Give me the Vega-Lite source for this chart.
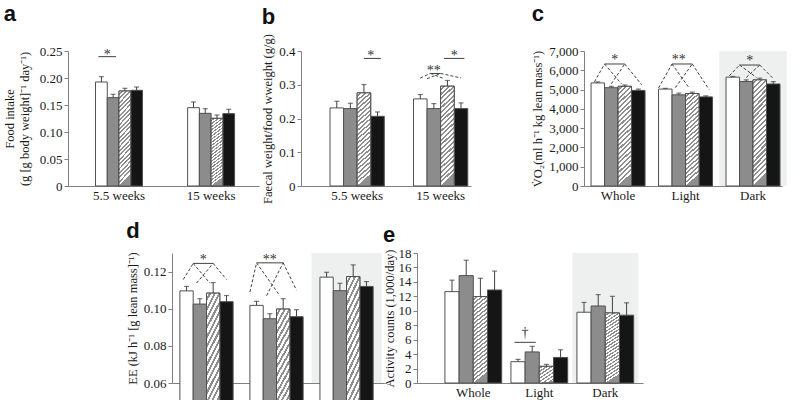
{
"$schema": "https://vega.github.io/schema/vega-lite/v6.json",
"padding": {"left": 3, "top": 3, "right": 3, "bottom": 0},
"background": "white",
"datasets": {
"bars": [
{"panel":"a","grp":"5.5 weeks","cond":"A","v":0.1926,"hi":0.2025},
{"panel":"a","grp":"5.5 weeks","cond":"B","v":0.1636,"hi":0.1698},
{"panel":"a","grp":"5.5 weeks","cond":"C","v":0.1759,"hi":0.1809},
{"panel":"a","grp":"5.5 weeks","cond":"D","v":0.1772,"hi":0.1833},
{"panel":"a","grp":"15 weeks","cond":"A","v":0.145,"hi":0.1556},
{"panel":"a","grp":"15 weeks","cond":"B","v":0.1346,"hi":0.1432},
{"panel":"a","grp":"15 weeks","cond":"C","v":0.1253,"hi":0.1315},
{"panel":"a","grp":"15 weeks","cond":"D","v":0.134,"hi":0.142},
{"panel":"b","grp":"5.5 weeks","cond":"A","v":0.2313,"hi":0.2511},
{"panel":"b","grp":"5.5 weeks","cond":"B","v":0.2293,"hi":0.2452},
{"panel":"b","grp":"5.5 weeks","cond":"C","v":0.2759,"hi":0.3007},
{"panel":"b","grp":"5.5 weeks","cond":"D","v":0.2065,"hi":0.2194},
{"panel":"b","grp":"15 weeks","cond":"A","v":0.2581,"hi":0.271},
{"panel":"b","grp":"15 weeks","cond":"B","v":0.2293,"hi":0.2442},
{"panel":"b","grp":"15 weeks","cond":"C","v":0.2958,"hi":0.3127},
{"panel":"b","grp":"15 weeks","cond":"D","v":0.2293,"hi":0.2462},
{"panel":"c","grp":"Whole","cond":"A","v":5344,"hi":5397},
{"panel":"c","grp":"Whole","cond":"B","v":5097,"hi":5168},
{"panel":"c","grp":"Whole","cond":"C","v":5168,"hi":5238},
{"panel":"c","grp":"Whole","cond":"D","v":4956,"hi":5026},
{"panel":"c","grp":"Light","cond":"A","v":5026,"hi":5062},
{"panel":"c","grp":"Light","cond":"B","v":4727,"hi":4815},
{"panel":"c","grp":"Light","cond":"C","v":4797,"hi":4868},
{"panel":"c","grp":"Light","cond":"D","v":4621,"hi":4674},
{"panel":"c","grp":"Dark","cond":"A","v":5644,"hi":5680},
{"panel":"c","grp":"Dark","cond":"B","v":5414,"hi":5503},
{"panel":"c","grp":"Dark","cond":"C","v":5503,"hi":5591},
{"panel":"c","grp":"Dark","cond":"D","v":5291,"hi":5414},
{"panel":"d","grp":"Whole","cond":"A","v":0.1096,"hi":0.112},
{"panel":"d","grp":"Whole","cond":"B","v":0.1025,"hi":0.1054},
{"panel":"d","grp":"Whole","cond":"C","v":0.1084,"hi":0.1141},
{"panel":"d","grp":"Whole","cond":"D","v":0.1038,"hi":0.1071},
{"panel":"d","grp":"Light","cond":"A","v":0.1018,"hi":0.104},
{"panel":"d","grp":"Light","cond":"B","v":0.0946,"hi":0.0973},
{"panel":"d","grp":"Light","cond":"C","v":0.0998,"hi":0.1054},
{"panel":"d","grp":"Light","cond":"D","v":0.0957,"hi":0.0995},
{"panel":"d","grp":"Dark","cond":"A","v":0.117,"hi":0.1196},
{"panel":"d","grp":"Dark","cond":"B","v":0.1097,"hi":0.1137},
{"panel":"d","grp":"Dark","cond":"C","v":0.1173,"hi":0.1236},
{"panel":"d","grp":"Dark","cond":"D","v":0.112,"hi":0.1146},
{"panel":"e","grp":"Whole","cond":"A","v":12.65,"hi":14.24},
{"panel":"e","grp":"Whole","cond":"B","v":14.87,"hi":17.0},
{"panel":"e","grp":"Whole","cond":"C","v":11.97,"hi":14.5},
{"panel":"e","grp":"Whole","cond":"D","v":12.88,"hi":15.5},
{"panel":"e","grp":"Light","cond":"A","v":2.95,"hi":3.27},
{"panel":"e","grp":"Light","cond":"B","v":4.3,"hi":5.08},
{"panel":"e","grp":"Light","cond":"C","v":2.31,"hi":2.58},
{"panel":"e","grp":"Light","cond":"D","v":3.54,"hi":4.6},
{"panel":"e","grp":"Dark","cond":"A","v":9.8,"hi":11.16},
{"panel":"e","grp":"Dark","cond":"B","v":10.66,"hi":12.24},
{"panel":"e","grp":"Dark","cond":"C","v":9.7,"hi":12.0},
{"panel":"e","grp":"Dark","cond":"D","v":9.39,"hi":11.1}
],
"sig": [
{"panel":"a","grp":"5.5 weeks","id":"a1","p":1,"y":0.2395},{"panel":"a","grp":"5.5 weeks","id":"a1","p":7,"y":0.2395},
{"panel":"b","grp":"5.5 weeks","id":"b1","p":10,"y":0.378},{"panel":"b","grp":"5.5 weeks","id":"b1","p":15,"y":0.378},
{"panel":"b","grp":"15 weeks","id":"b2","p":9,"y":0.378},{"panel":"b","grp":"15 weeks","id":"b2","p":15,"y":0.378},
{"panel":"b","grp":"15 weeks","id":"b3","p":5,"y":0.3335},{"panel":"b","grp":"15 weeks","id":"b3","p":8,"y":0.3335},
{"panel":"c","grp":"Whole","id":"c1","p":4,"y":6326},{"panel":"c","grp":"Whole","id":"c1","p":10,"y":6326},
{"panel":"c","grp":"Light","id":"c2","p":4,"y":6326},{"panel":"c","grp":"Light","id":"c2","p":10,"y":6326},
{"panel":"c","grp":"Dark","id":"c3","p":4,"y":6272},{"panel":"c","grp":"Dark","id":"c3","p":10,"y":6272},
{"panel":"d","grp":"Whole","id":"d1","p":4,"y":0.1244},{"panel":"d","grp":"Whole","id":"d1","p":10,"y":0.1244},
{"panel":"d","grp":"Light","id":"d2","p":2,"y":0.1247},{"panel":"d","grp":"Light","id":"d2","p":10,"y":0.1247},
{"panel":"e","grp":"Light","id":"e1","p":1,"y":5.63},{"panel":"e","grp":"Light","id":"e1","p":7,"y":5.63}
],
"links": [
{"panel":"b","grp":"15 weeks","id":"bl1","p":5,"y":0.3335},{"panel":"b","grp":"15 weeks","id":"bl1","p":2,"y":0.32},
{"panel":"b","grp":"15 weeks","id":"bl2","p":5,"y":0.3335},{"panel":"b","grp":"15 weeks","id":"bl2","p":9,"y":0.318},
{"panel":"b","grp":"15 weeks","id":"bl3","p":8,"y":0.3335},{"panel":"b","grp":"15 weeks","id":"bl3","p":4,"y":0.318},
{"panel":"b","grp":"15 weeks","id":"bl4","p":8,"y":0.3335},{"panel":"b","grp":"15 weeks","id":"bl4","p":14,"y":0.32},
{"panel":"c","grp":"Whole","id":"cl1","p":4,"y":6326},{"panel":"c","grp":"Whole","id":"cl1","p":1,"y":5400},
{"panel":"c","grp":"Whole","id":"cl2","p":4,"y":6326},{"panel":"c","grp":"Whole","id":"cl2","p":9,"y":5300},
{"panel":"c","grp":"Whole","id":"cl3","p":10,"y":6326},{"panel":"c","grp":"Whole","id":"cl3","p":6,"y":5300},
{"panel":"c","grp":"Whole","id":"cl4","p":10,"y":6326},{"panel":"c","grp":"Whole","id":"cl4","p":15,"y":5250},
{"panel":"c","grp":"Light","id":"cl5","p":4,"y":6326},{"panel":"c","grp":"Light","id":"cl5","p":0,"y":5080},
{"panel":"c","grp":"Light","id":"cl6","p":4,"y":6326},{"panel":"c","grp":"Light","id":"cl6","p":9,"y":5100},
{"panel":"c","grp":"Light","id":"cl7","p":10,"y":6326},{"panel":"c","grp":"Light","id":"cl7","p":5,"y":5100},
{"panel":"c","grp":"Light","id":"cl8","p":10,"y":6326},{"panel":"c","grp":"Light","id":"cl8","p":15,"y":5000},
{"panel":"c","grp":"Dark","id":"cl9","p":4,"y":6272},{"panel":"c","grp":"Dark","id":"cl9","p":1,"y":5720},
{"panel":"c","grp":"Dark","id":"cl10","p":4,"y":6272},{"panel":"c","grp":"Dark","id":"cl10","p":9,"y":5630},
{"panel":"c","grp":"Dark","id":"cl11","p":10,"y":6272},{"panel":"c","grp":"Dark","id":"cl11","p":6,"y":5630},
{"panel":"c","grp":"Dark","id":"cl12","p":10,"y":6272},{"panel":"c","grp":"Dark","id":"cl12","p":14,"y":5570},
{"panel":"d","grp":"Whole","id":"dl1","p":4,"y":0.1244},{"panel":"d","grp":"Whole","id":"dl1","p":1,"y":0.1157},
{"panel":"d","grp":"Whole","id":"dl2","p":4,"y":0.1244},{"panel":"d","grp":"Whole","id":"dl2","p":9,"y":0.1138},
{"panel":"d","grp":"Whole","id":"dl3","p":10,"y":0.1244},{"panel":"d","grp":"Whole","id":"dl3","p":5,"y":0.1138},
{"panel":"d","grp":"Whole","id":"dl4","p":10,"y":0.1244},{"panel":"d","grp":"Whole","id":"dl4","p":14,"y":0.1157},
{"panel":"d","grp":"Light","id":"dl5","p":2,"y":0.1247},{"panel":"d","grp":"Light","id":"dl5","p":0,"y":0.109},
{"panel":"d","grp":"Light","id":"dl6","p":2,"y":0.1247},{"panel":"d","grp":"Light","id":"dl6","p":9,"y":0.107},
{"panel":"d","grp":"Light","id":"dl7","p":10,"y":0.1247},{"panel":"d","grp":"Light","id":"dl7","p":5,"y":0.107},
{"panel":"d","grp":"Light","id":"dl8","p":10,"y":0.1247},{"panel":"d","grp":"Light","id":"dl8","p":14,"y":0.11}
],
"stars": [
{"panel":"a","grp":"5.5 weeks","p":4,"y":0.243,"t":"*"},
{"panel":"b","grp":"5.5 weeks","p":12,"y":0.386,"t":"*"},
{"panel":"b","grp":"15 weeks","p":12,"y":0.386,"t":"*"},
{"panel":"b","grp":"15 weeks","p":6,"y":0.341,"t":"**"},
{"panel":"c","grp":"Whole","p":7,"y":6522,"t":"*"},
{"panel":"c","grp":"Light","p":6,"y":6522,"t":"**"},
{"panel":"c","grp":"Dark","p":7,"y":6480,"t":"*"},
{"panel":"d","grp":"Whole","p":7,"y":0.1264,"t":"*"},
{"panel":"d","grp":"Light","p":6,"y":0.1264,"t":"**"},
{"panel":"e","grp":"Light","p":4,"y":6.9,"t":"†"}
]
},
"config": {
"font": "Liberation Serif",
"view": {"stroke": null},
"axis": {"labelFont": "Liberation Serif", "labelFontSize": 13, "labelColor": "#1a1a1a", "titleFont": "Liberation Serif", "titleFontSize": 12.5, "titleFontWeight": "normal", "titleColor": "#1a1a1a", "domainColor": "#808080", "tickColor": "#808080", "grid": false, "labelPadding": 2, "titlePadding": 4, "labelOverlap": false, "labelFlush": false, "labelBound": false},
"axisX": {"ticks": false, "labelAngle": 0, "labelPadding": 3},
"axisY": {"tickSize": 4},
"title": {"font": "Liberation Sans", "fontSize": 22, "fontWeight": "bold", "anchor": "start", "frame": "bounds", "color": "#111111", "baseline": "alphabetic"}
},
"spacing": 15,
"vconcat": [
{"spacing": 60, "hconcat": [
{"spacing": 2, "hconcat": [
{
"width": 191, "height": 135,
"title": {"text": "a", "offset": 19},
"resolve": {"scale": {"xOffset": "independent"}},
"layer": [
{"data": {"name": "bars"}, "transform": [{"filter": "datum.panel === 'a'"}],
 "mark": {"type": "bar", "stroke": "#505050", "strokeWidth": 1},
 "encoding": {
  "x": {"field": "grp", "type": "nominal", "sort": ["5.5 weeks", "15 weeks"], "scale": {"paddingInner": 0.49, "paddingOuter": 0.282, "align": 0.53}, "axis": {"title": null}},
  "xOffset": {"field": "cond", "type": "nominal", "scale": {"domain": ["A","B","C","D"], "paddingInner": 0, "paddingOuter": 0}},
  "y": {"field": "v", "type": "quantitative", "scale": {"domain": [0, 0.25], "nice": false}, "axis": {"values": [0, 0.05, 0.1, 0.15, 0.2, 0.25], "tickCount": 30, "labelOverlap": false, "titlePadding": 8, "labelExpr": "datum.value === 0 ? '0' : format(datum.value, '.2f')", "title": ["Food intake", "(g [g body weight]⁻¹ day⁻¹)"]}},
  "color": {"field": "cond", "type": "nominal", "scale": {"domain": ["A","B","C","D"], "range": ["#ffffff","#8c8c8c","#d0d0d0","#151515"]}, "legend": null}
 }},
{"data": {"name": "bars"}, "transform": [{"filter": "datum.panel === 'a' && datum.cond === 'C'"}],
 "mark": {"type": "bar", "stroke": "#505050", "strokeWidth": 1, "fill": {"gradient": "linear", "x1": 0, "y1": 0, "x2": 0.13, "y2": 1, "stops": [
{"offset":0,"color":"#ffffff"},{"offset":0.025,"color":"#ffffff"},{"offset":0.025,"color":"#8f8f8f"},{"offset":0.04545,"color":"#8f8f8f"},
{"offset":0.04545,"color":"#ffffff"},{"offset":0.07045,"color":"#ffffff"},{"offset":0.07045,"color":"#8f8f8f"},{"offset":0.09091,"color":"#8f8f8f"},
{"offset":0.09091,"color":"#ffffff"},{"offset":0.11591,"color":"#ffffff"},{"offset":0.11591,"color":"#8f8f8f"},{"offset":0.13636,"color":"#8f8f8f"},
{"offset":0.13636,"color":"#ffffff"},{"offset":0.16136,"color":"#ffffff"},{"offset":0.16136,"color":"#8f8f8f"},{"offset":0.18182,"color":"#8f8f8f"},
{"offset":0.18182,"color":"#ffffff"},{"offset":0.20682,"color":"#ffffff"},{"offset":0.20682,"color":"#8f8f8f"},{"offset":0.22727,"color":"#8f8f8f"},
{"offset":0.22727,"color":"#ffffff"},{"offset":0.25227,"color":"#ffffff"},{"offset":0.25227,"color":"#8f8f8f"},{"offset":0.27273,"color":"#8f8f8f"},
{"offset":0.27273,"color":"#ffffff"},{"offset":0.29773,"color":"#ffffff"},{"offset":0.29773,"color":"#8f8f8f"},{"offset":0.31818,"color":"#8f8f8f"},
{"offset":0.31818,"color":"#ffffff"},{"offset":0.34318,"color":"#ffffff"},{"offset":0.34318,"color":"#8f8f8f"},{"offset":0.36364,"color":"#8f8f8f"},
{"offset":0.36364,"color":"#ffffff"},{"offset":0.38864,"color":"#ffffff"},{"offset":0.38864,"color":"#8f8f8f"},{"offset":0.40909,"color":"#8f8f8f"},
{"offset":0.40909,"color":"#ffffff"},{"offset":0.43409,"color":"#ffffff"},{"offset":0.43409,"color":"#8f8f8f"},{"offset":0.45455,"color":"#8f8f8f"},
{"offset":0.45455,"color":"#ffffff"},{"offset":0.47955,"color":"#ffffff"},{"offset":0.47955,"color":"#8f8f8f"},{"offset":0.5,"color":"#8f8f8f"},
{"offset":0.5,"color":"#ffffff"},{"offset":0.525,"color":"#ffffff"},{"offset":0.525,"color":"#8f8f8f"},{"offset":0.54545,"color":"#8f8f8f"},
{"offset":0.54545,"color":"#ffffff"},{"offset":0.57045,"color":"#ffffff"},{"offset":0.57045,"color":"#8f8f8f"},{"offset":0.59091,"color":"#8f8f8f"},
{"offset":0.59091,"color":"#ffffff"},{"offset":0.61591,"color":"#ffffff"},{"offset":0.61591,"color":"#8f8f8f"},{"offset":0.63636,"color":"#8f8f8f"},
{"offset":0.63636,"color":"#ffffff"},{"offset":0.66136,"color":"#ffffff"},{"offset":0.66136,"color":"#8f8f8f"},{"offset":0.68182,"color":"#8f8f8f"},
{"offset":0.68182,"color":"#ffffff"},{"offset":0.70682,"color":"#ffffff"},{"offset":0.70682,"color":"#8f8f8f"},{"offset":0.72727,"color":"#8f8f8f"},
{"offset":0.72727,"color":"#ffffff"},{"offset":0.75227,"color":"#ffffff"},{"offset":0.75227,"color":"#8f8f8f"},{"offset":0.77273,"color":"#8f8f8f"},
{"offset":0.77273,"color":"#ffffff"},{"offset":0.79773,"color":"#ffffff"},{"offset":0.79773,"color":"#8f8f8f"},{"offset":0.81818,"color":"#8f8f8f"},
{"offset":0.81818,"color":"#ffffff"},{"offset":0.84318,"color":"#ffffff"},{"offset":0.84318,"color":"#8f8f8f"},{"offset":0.86364,"color":"#8f8f8f"},
{"offset":0.86364,"color":"#ffffff"},{"offset":0.88864,"color":"#ffffff"},{"offset":0.88864,"color":"#8f8f8f"},{"offset":0.90909,"color":"#8f8f8f"},
{"offset":0.90909,"color":"#ffffff"},{"offset":0.93409,"color":"#ffffff"},{"offset":0.93409,"color":"#8f8f8f"},{"offset":0.95455,"color":"#8f8f8f"},
{"offset":0.95455,"color":"#ffffff"},{"offset":0.97955,"color":"#ffffff"},{"offset":0.97955,"color":"#8f8f8f"},{"offset":1,"color":"#8f8f8f"}
]}},
 "encoding": {
  "x": {"field": "grp", "type": "nominal", "sort": ["5.5 weeks", "15 weeks"]},
  "xOffset": {"field": "cond", "type": "nominal", "scale": {"domain": ["A","B","C","D"], "paddingInner": 0, "paddingOuter": 0}},
  "y": {"field": "v", "type": "quantitative"}
 }},
{"data": {"name": "bars"}, "transform": [{"filter": "datum.panel === 'a'"}],
 "mark": {"type": "rule", "color": "#404040", "strokeWidth": 1},
 "encoding": {
  "x": {"field": "grp", "type": "nominal", "sort": ["5.5 weeks", "15 weeks"]},
  "xOffset": {"field": "cond", "type": "nominal", "scale": {"domain": ["A","B","C","D"], "paddingInner": 0, "paddingOuter": 0}},
  "y": {"field": "v", "type": "quantitative"}, "y2": {"field": "hi"}
 }},
{"data": {"name": "bars"}, "transform": [{"filter": "datum.panel === 'a'"}],
 "mark": {"type": "tick", "orient": "horizontal", "size": 5, "thickness": 1.2, "color": "#404040"},
 "encoding": {
  "x": {"field": "grp", "type": "nominal", "sort": ["5.5 weeks", "15 weeks"]},
  "xOffset": {"field": "cond", "type": "nominal", "scale": {"domain": ["A","B","C","D"], "paddingInner": 0, "paddingOuter": 0}},
  "y": {"field": "hi", "type": "quantitative"}
 }},
{"data": {"name": "sig"}, "transform": [{"filter": "datum.panel === 'a'"}],
 "mark": {"type": "line", "color": "#404040", "strokeWidth": 1},
 "encoding": {
  "x": {"field": "grp", "type": "nominal", "sort": ["5.5 weeks", "15 weeks"]},
  "xOffset": {"field": "p", "type": "ordinal", "scale": {"type": "point", "domain": [0,1,2,3,4,5,6,7,8,9,10,11,12,13,14,15,16], "padding": 0}},
  "y": {"field": "y", "type": "quantitative"}, "detail": {"field": "id"}
 }},
{"data": {"name": "stars"}, "transform": [{"filter": "datum.panel === 'a'"}],
 "mark": {"type": "text", "font": "Liberation Serif", "fontSize": 14, "baseline": "middle", "align": "center", "color": "#333333"},
 "encoding": {
  "x": {"field": "grp", "type": "nominal", "sort": ["5.5 weeks", "15 weeks"]},
  "xOffset": {"field": "p", "type": "ordinal", "scale": {"type": "point", "domain": [0,1,2,3,4,5,6,7,8,9,10,11,12,13,14,15,16], "padding": 0}},
  "y": {"field": "y", "type": "quantitative"}, "text": {"field": "t"}
 }}
]
},
{
"width": 170, "height": 135,
"title": {"text": "b", "offset": 5},
"resolve": {"scale": {"xOffset": "independent"}},
"layer": [
{"data": {"name": "bars"}, "transform": [{"filter": "datum.panel === 'b'"}],
 "mark": {"type": "bar", "stroke": "#505050", "strokeWidth": 1},
 "encoding": {
  "x": {"field": "grp", "type": "nominal", "sort": ["5.5 weeks", "15 weeks"], "scale": {"paddingInner": 0.35, "paddingOuter": 0.193, "align": 0.9}, "axis": {"title": null}},
  "xOffset": {"field": "cond", "type": "nominal", "scale": {"domain": ["A","B","C","D"], "paddingInner": 0, "paddingOuter": 0}},
  "y": {"field": "v", "type": "quantitative", "scale": {"domain": [0, 0.4], "nice": false}, "axis": {"values": [0, 0.1, 0.2, 0.3, 0.4], "tickCount": 30, "labelOverlap": false, "labelExpr": "datum.value === 0 ? '0' : format(datum.value, '.1f')", "title": "Faecal weight/food wweight (g/g)"}},
  "color": {"field": "cond", "type": "nominal", "scale": {"domain": ["A","B","C","D"], "range": ["#ffffff","#8c8c8c","#d0d0d0","#151515"]}, "legend": null}
 }},
{"data": {"name": "bars"}, "transform": [{"filter": "datum.panel === 'b' && datum.cond === 'C'"}],
 "mark": {"type": "bar", "stroke": "#505050", "strokeWidth": 1, "fill": {"gradient": "linear", "x1": 0, "y1": 0, "x2": 0.13, "y2": 1, "stops": [
{"offset":0,"color":"#ffffff"},{"offset":0.025,"color":"#ffffff"},{"offset":0.025,"color":"#8f8f8f"},{"offset":0.04545,"color":"#8f8f8f"},
{"offset":0.04545,"color":"#ffffff"},{"offset":0.07045,"color":"#ffffff"},{"offset":0.07045,"color":"#8f8f8f"},{"offset":0.09091,"color":"#8f8f8f"},
{"offset":0.09091,"color":"#ffffff"},{"offset":0.11591,"color":"#ffffff"},{"offset":0.11591,"color":"#8f8f8f"},{"offset":0.13636,"color":"#8f8f8f"},
{"offset":0.13636,"color":"#ffffff"},{"offset":0.16136,"color":"#ffffff"},{"offset":0.16136,"color":"#8f8f8f"},{"offset":0.18182,"color":"#8f8f8f"},
{"offset":0.18182,"color":"#ffffff"},{"offset":0.20682,"color":"#ffffff"},{"offset":0.20682,"color":"#8f8f8f"},{"offset":0.22727,"color":"#8f8f8f"},
{"offset":0.22727,"color":"#ffffff"},{"offset":0.25227,"color":"#ffffff"},{"offset":0.25227,"color":"#8f8f8f"},{"offset":0.27273,"color":"#8f8f8f"},
{"offset":0.27273,"color":"#ffffff"},{"offset":0.29773,"color":"#ffffff"},{"offset":0.29773,"color":"#8f8f8f"},{"offset":0.31818,"color":"#8f8f8f"},
{"offset":0.31818,"color":"#ffffff"},{"offset":0.34318,"color":"#ffffff"},{"offset":0.34318,"color":"#8f8f8f"},{"offset":0.36364,"color":"#8f8f8f"},
{"offset":0.36364,"color":"#ffffff"},{"offset":0.38864,"color":"#ffffff"},{"offset":0.38864,"color":"#8f8f8f"},{"offset":0.40909,"color":"#8f8f8f"},
{"offset":0.40909,"color":"#ffffff"},{"offset":0.43409,"color":"#ffffff"},{"offset":0.43409,"color":"#8f8f8f"},{"offset":0.45455,"color":"#8f8f8f"},
{"offset":0.45455,"color":"#ffffff"},{"offset":0.47955,"color":"#ffffff"},{"offset":0.47955,"color":"#8f8f8f"},{"offset":0.5,"color":"#8f8f8f"},
{"offset":0.5,"color":"#ffffff"},{"offset":0.525,"color":"#ffffff"},{"offset":0.525,"color":"#8f8f8f"},{"offset":0.54545,"color":"#8f8f8f"},
{"offset":0.54545,"color":"#ffffff"},{"offset":0.57045,"color":"#ffffff"},{"offset":0.57045,"color":"#8f8f8f"},{"offset":0.59091,"color":"#8f8f8f"},
{"offset":0.59091,"color":"#ffffff"},{"offset":0.61591,"color":"#ffffff"},{"offset":0.61591,"color":"#8f8f8f"},{"offset":0.63636,"color":"#8f8f8f"},
{"offset":0.63636,"color":"#ffffff"},{"offset":0.66136,"color":"#ffffff"},{"offset":0.66136,"color":"#8f8f8f"},{"offset":0.68182,"color":"#8f8f8f"},
{"offset":0.68182,"color":"#ffffff"},{"offset":0.70682,"color":"#ffffff"},{"offset":0.70682,"color":"#8f8f8f"},{"offset":0.72727,"color":"#8f8f8f"},
{"offset":0.72727,"color":"#ffffff"},{"offset":0.75227,"color":"#ffffff"},{"offset":0.75227,"color":"#8f8f8f"},{"offset":0.77273,"color":"#8f8f8f"},
{"offset":0.77273,"color":"#ffffff"},{"offset":0.79773,"color":"#ffffff"},{"offset":0.79773,"color":"#8f8f8f"},{"offset":0.81818,"color":"#8f8f8f"},
{"offset":0.81818,"color":"#ffffff"},{"offset":0.84318,"color":"#ffffff"},{"offset":0.84318,"color":"#8f8f8f"},{"offset":0.86364,"color":"#8f8f8f"},
{"offset":0.86364,"color":"#ffffff"},{"offset":0.88864,"color":"#ffffff"},{"offset":0.88864,"color":"#8f8f8f"},{"offset":0.90909,"color":"#8f8f8f"},
{"offset":0.90909,"color":"#ffffff"},{"offset":0.93409,"color":"#ffffff"},{"offset":0.93409,"color":"#8f8f8f"},{"offset":0.95455,"color":"#8f8f8f"},
{"offset":0.95455,"color":"#ffffff"},{"offset":0.97955,"color":"#ffffff"},{"offset":0.97955,"color":"#8f8f8f"},{"offset":1,"color":"#8f8f8f"}
]}},
 "encoding": {
  "x": {"field": "grp", "type": "nominal", "sort": ["5.5 weeks", "15 weeks"]},
  "xOffset": {"field": "cond", "type": "nominal", "scale": {"domain": ["A","B","C","D"], "paddingInner": 0, "paddingOuter": 0}},
  "y": {"field": "v", "type": "quantitative"}
 }},
{"data": {"name": "bars"}, "transform": [{"filter": "datum.panel === 'b'"}],
 "mark": {"type": "rule", "color": "#404040", "strokeWidth": 1},
 "encoding": {
  "x": {"field": "grp", "type": "nominal", "sort": ["5.5 weeks", "15 weeks"]},
  "xOffset": {"field": "cond", "type": "nominal", "scale": {"domain": ["A","B","C","D"], "paddingInner": 0, "paddingOuter": 0}},
  "y": {"field": "v", "type": "quantitative"}, "y2": {"field": "hi"}
 }},
{"data": {"name": "bars"}, "transform": [{"filter": "datum.panel === 'b'"}],
 "mark": {"type": "tick", "orient": "horizontal", "size": 5, "thickness": 1.2, "color": "#404040"},
 "encoding": {
  "x": {"field": "grp", "type": "nominal", "sort": ["5.5 weeks", "15 weeks"]},
  "xOffset": {"field": "cond", "type": "nominal", "scale": {"domain": ["A","B","C","D"], "paddingInner": 0, "paddingOuter": 0}},
  "y": {"field": "hi", "type": "quantitative"}
 }},
{"data": {"name": "sig"}, "transform": [{"filter": "datum.panel === 'b'"}],
 "mark": {"type": "line", "color": "#404040", "strokeWidth": 1},
 "encoding": {
  "x": {"field": "grp", "type": "nominal", "sort": ["5.5 weeks", "15 weeks"]},
  "xOffset": {"field": "p", "type": "ordinal", "scale": {"type": "point", "domain": [0,1,2,3,4,5,6,7,8,9,10,11,12,13,14,15,16], "padding": 0}},
  "y": {"field": "y", "type": "quantitative"}, "detail": {"field": "id"}
 }},
{"data": {"name": "links"}, "transform": [{"filter": "datum.panel === 'b'"}],
 "mark": {"type": "line", "color": "#404040", "strokeWidth": 1, "strokeDash": [3, 2]},
 "encoding": {
  "x": {"field": "grp", "type": "nominal", "sort": ["5.5 weeks", "15 weeks"]},
  "xOffset": {"field": "p", "type": "ordinal", "scale": {"type": "point", "domain": [0,1,2,3,4,5,6,7,8,9,10,11,12,13,14,15,16], "padding": 0}},
  "y": {"field": "y", "type": "quantitative"}, "detail": {"field": "id"}
 }},
{"data": {"name": "stars"}, "transform": [{"filter": "datum.panel === 'b'"}],
 "mark": {"type": "text", "font": "Liberation Serif", "fontSize": 14, "baseline": "middle", "align": "center", "color": "#333333"},
 "encoding": {
  "x": {"field": "grp", "type": "nominal", "sort": ["5.5 weeks", "15 weeks"]},
  "xOffset": {"field": "p", "type": "ordinal", "scale": {"type": "point", "domain": [0,1,2,3,4,5,6,7,8,9,10,11,12,13,14,15,16], "padding": 0}},
  "y": {"field": "y", "type": "quantitative"}, "text": {"field": "t"}
 }}
]
}
]},
{
"width": 198, "height": 135,
"title": {"text": "c", "offset": 19},
"resolve": {"scale": {"xOffset": "independent"}},
"layer": [
{"data": {"name": "bars"}, "transform": [{"filter": "datum.panel === 'c' && datum.grp === 'Dark' && datum.cond === 'A'"}],
 "mark": {"type": "bar", "color": "#eef0ef", "width": {"band": 1.25}},
 "encoding": {
  "x": {"field": "grp", "type": "nominal", "sort": ["Whole", "Light", "Dark"]},
  "y": {"datum": 7000}, "y2": {"datum": 0}
 }},
{"data": {"name": "bars"}, "transform": [{"filter": "datum.panel === 'c'"}],
 "mark": {"type": "bar", "stroke": "#505050", "strokeWidth": 1},
 "encoding": {
  "x": {"field": "grp", "type": "nominal", "sort": ["Whole", "Light", "Dark"], "scale": {"paddingInner": 0.2, "paddingOuter": 0.067, "align": 0.78}, "axis": {"title": null}},
  "xOffset": {"field": "cond", "type": "nominal", "scale": {"domain": ["A","B","C","D"], "paddingInner": 0, "paddingOuter": 0}},
  "y": {"field": "v", "type": "quantitative", "scale": {"domain": [0, 7000], "nice": false}, "axis": {"values": [0, 1000, 2000, 3000, 4000, 5000, 6000, 7000], "tickCount": 30, "labelOverlap": false, "labelExpr": "format(datum.value, ',')", "title": "V̇O₂(ml h⁻¹ kg lean mass⁻¹)"}},
  "color": {"field": "cond", "type": "nominal", "scale": {"domain": ["A","B","C","D"], "range": ["#ffffff","#8c8c8c","#d0d0d0","#151515"]}, "legend": null}
 }},
{"data": {"name": "bars"}, "transform": [{"filter": "datum.panel === 'c' && datum.cond === 'C'"}],
 "mark": {"type": "bar", "stroke": "#505050", "strokeWidth": 1, "fill": {"gradient": "linear", "x1": 0, "y1": 0, "x2": 0.13, "y2": 1, "stops": [
{"offset":0,"color":"#ffffff"},{"offset":0.025,"color":"#ffffff"},{"offset":0.025,"color":"#8f8f8f"},{"offset":0.04545,"color":"#8f8f8f"},
{"offset":0.04545,"color":"#ffffff"},{"offset":0.07045,"color":"#ffffff"},{"offset":0.07045,"color":"#8f8f8f"},{"offset":0.09091,"color":"#8f8f8f"},
{"offset":0.09091,"color":"#ffffff"},{"offset":0.11591,"color":"#ffffff"},{"offset":0.11591,"color":"#8f8f8f"},{"offset":0.13636,"color":"#8f8f8f"},
{"offset":0.13636,"color":"#ffffff"},{"offset":0.16136,"color":"#ffffff"},{"offset":0.16136,"color":"#8f8f8f"},{"offset":0.18182,"color":"#8f8f8f"},
{"offset":0.18182,"color":"#ffffff"},{"offset":0.20682,"color":"#ffffff"},{"offset":0.20682,"color":"#8f8f8f"},{"offset":0.22727,"color":"#8f8f8f"},
{"offset":0.22727,"color":"#ffffff"},{"offset":0.25227,"color":"#ffffff"},{"offset":0.25227,"color":"#8f8f8f"},{"offset":0.27273,"color":"#8f8f8f"},
{"offset":0.27273,"color":"#ffffff"},{"offset":0.29773,"color":"#ffffff"},{"offset":0.29773,"color":"#8f8f8f"},{"offset":0.31818,"color":"#8f8f8f"},
{"offset":0.31818,"color":"#ffffff"},{"offset":0.34318,"color":"#ffffff"},{"offset":0.34318,"color":"#8f8f8f"},{"offset":0.36364,"color":"#8f8f8f"},
{"offset":0.36364,"color":"#ffffff"},{"offset":0.38864,"color":"#ffffff"},{"offset":0.38864,"color":"#8f8f8f"},{"offset":0.40909,"color":"#8f8f8f"},
{"offset":0.40909,"color":"#ffffff"},{"offset":0.43409,"color":"#ffffff"},{"offset":0.43409,"color":"#8f8f8f"},{"offset":0.45455,"color":"#8f8f8f"},
{"offset":0.45455,"color":"#ffffff"},{"offset":0.47955,"color":"#ffffff"},{"offset":0.47955,"color":"#8f8f8f"},{"offset":0.5,"color":"#8f8f8f"},
{"offset":0.5,"color":"#ffffff"},{"offset":0.525,"color":"#ffffff"},{"offset":0.525,"color":"#8f8f8f"},{"offset":0.54545,"color":"#8f8f8f"},
{"offset":0.54545,"color":"#ffffff"},{"offset":0.57045,"color":"#ffffff"},{"offset":0.57045,"color":"#8f8f8f"},{"offset":0.59091,"color":"#8f8f8f"},
{"offset":0.59091,"color":"#ffffff"},{"offset":0.61591,"color":"#ffffff"},{"offset":0.61591,"color":"#8f8f8f"},{"offset":0.63636,"color":"#8f8f8f"},
{"offset":0.63636,"color":"#ffffff"},{"offset":0.66136,"color":"#ffffff"},{"offset":0.66136,"color":"#8f8f8f"},{"offset":0.68182,"color":"#8f8f8f"},
{"offset":0.68182,"color":"#ffffff"},{"offset":0.70682,"color":"#ffffff"},{"offset":0.70682,"color":"#8f8f8f"},{"offset":0.72727,"color":"#8f8f8f"},
{"offset":0.72727,"color":"#ffffff"},{"offset":0.75227,"color":"#ffffff"},{"offset":0.75227,"color":"#8f8f8f"},{"offset":0.77273,"color":"#8f8f8f"},
{"offset":0.77273,"color":"#ffffff"},{"offset":0.79773,"color":"#ffffff"},{"offset":0.79773,"color":"#8f8f8f"},{"offset":0.81818,"color":"#8f8f8f"},
{"offset":0.81818,"color":"#ffffff"},{"offset":0.84318,"color":"#ffffff"},{"offset":0.84318,"color":"#8f8f8f"},{"offset":0.86364,"color":"#8f8f8f"},
{"offset":0.86364,"color":"#ffffff"},{"offset":0.88864,"color":"#ffffff"},{"offset":0.88864,"color":"#8f8f8f"},{"offset":0.90909,"color":"#8f8f8f"},
{"offset":0.90909,"color":"#ffffff"},{"offset":0.93409,"color":"#ffffff"},{"offset":0.93409,"color":"#8f8f8f"},{"offset":0.95455,"color":"#8f8f8f"},
{"offset":0.95455,"color":"#ffffff"},{"offset":0.97955,"color":"#ffffff"},{"offset":0.97955,"color":"#8f8f8f"},{"offset":1,"color":"#8f8f8f"}
]}},
 "encoding": {
  "x": {"field": "grp", "type": "nominal", "sort": ["Whole", "Light", "Dark"]},
  "xOffset": {"field": "cond", "type": "nominal", "scale": {"domain": ["A","B","C","D"], "paddingInner": 0, "paddingOuter": 0}},
  "y": {"field": "v", "type": "quantitative"}
 }},
{"data": {"name": "bars"}, "transform": [{"filter": "datum.panel === 'c'"}],
 "mark": {"type": "rule", "color": "#404040", "strokeWidth": 1},
 "encoding": {
  "x": {"field": "grp", "type": "nominal", "sort": ["Whole", "Light", "Dark"]},
  "xOffset": {"field": "cond", "type": "nominal", "scale": {"domain": ["A","B","C","D"], "paddingInner": 0, "paddingOuter": 0}},
  "y": {"field": "v", "type": "quantitative"}, "y2": {"field": "hi"}
 }},
{"data": {"name": "bars"}, "transform": [{"filter": "datum.panel === 'c'"}],
 "mark": {"type": "tick", "orient": "horizontal", "size": 5, "thickness": 1.2, "color": "#404040"},
 "encoding": {
  "x": {"field": "grp", "type": "nominal", "sort": ["Whole", "Light", "Dark"]},
  "xOffset": {"field": "cond", "type": "nominal", "scale": {"domain": ["A","B","C","D"], "paddingInner": 0, "paddingOuter": 0}},
  "y": {"field": "hi", "type": "quantitative"}
 }},
{"data": {"name": "sig"}, "transform": [{"filter": "datum.panel === 'c'"}],
 "mark": {"type": "line", "color": "#404040", "strokeWidth": 1},
 "encoding": {
  "x": {"field": "grp", "type": "nominal", "sort": ["Whole", "Light", "Dark"]},
  "xOffset": {"field": "p", "type": "ordinal", "scale": {"type": "point", "domain": [0,1,2,3,4,5,6,7,8,9,10,11,12,13,14,15,16], "padding": 0}},
  "y": {"field": "y", "type": "quantitative"}, "detail": {"field": "id"}
 }},
{"data": {"name": "links"}, "transform": [{"filter": "datum.panel === 'c'"}],
 "mark": {"type": "line", "color": "#404040", "strokeWidth": 1, "strokeDash": [3, 2]},
 "encoding": {
  "x": {"field": "grp", "type": "nominal", "sort": ["Whole", "Light", "Dark"]},
  "xOffset": {"field": "p", "type": "ordinal", "scale": {"type": "point", "domain": [0,1,2,3,4,5,6,7,8,9,10,11,12,13,14,15,16], "padding": 0}},
  "y": {"field": "y", "type": "quantitative"}, "detail": {"field": "id"}
 }},
{"data": {"name": "stars"}, "transform": [{"filter": "datum.panel === 'c'"}],
 "mark": {"type": "text", "font": "Liberation Serif", "fontSize": 14, "baseline": "middle", "align": "center", "color": "#333333"},
 "encoding": {
  "x": {"field": "grp", "type": "nominal", "sort": ["Whole", "Light", "Dark"]},
  "xOffset": {"field": "p", "type": "ordinal", "scale": {"type": "point", "domain": [0,1,2,3,4,5,6,7,8,9,10,11,12,13,14,15,16], "padding": 0}},
  "y": {"field": "y", "type": "quantitative"}, "text": {"field": "t"}
 }}
]
}
]},
{"spacing": 0, "hconcat": [
{"width": 58, "height": 130, "data": {"values": [{"s": 0}]}, "mark": {"type": "point", "opacity": 0}, "encoding": {}},
{"spacing": -3, "hconcat": [
{
"width": 213, "height": 130,
"title": {"text": "d", "offset": 9},
"resolve": {"scale": {"xOffset": "independent"}},
"layer": [
{"data": {"name": "bars"}, "transform": [{"filter": "datum.panel === 'd' && datum.grp === 'Dark' && datum.cond === 'A'"}],
 "mark": {"type": "bar", "color": "#eef0ef", "width": {"band": 1.316}},
 "encoding": {
  "x": {"field": "grp", "type": "nominal", "sort": ["Whole", "Light", "Dark"]},
  "y": {"datum": 0.13}, "y2": {"datum": 0.06}
 }},
{"data": {"name": "bars"}, "transform": [{"filter": "datum.panel === 'd'"}],
 "mark": {"type": "bar", "stroke": "#505050", "strokeWidth": 1},
 "encoding": {
  "x": {"field": "grp", "type": "nominal", "sort": ["Whole", "Light", "Dark"], "scale": {"paddingInner": 0.24, "paddingOuter": 0.141, "align": 0.4}, "axis": {"title": null}},
  "xOffset": {"field": "cond", "type": "nominal", "scale": {"domain": ["A","B","C","D"], "paddingInner": 0, "paddingOuter": 0}},
  "y": {"field": "v", "type": "quantitative", "scale": {"domain": [0.06, 0.13], "nice": false, "zero": false}, "axis": {"values": [0.06, 0.08, 0.1, 0.12], "tickCount": 30, "labelOverlap": false, "labelExpr": "format(datum.value, '.2f')", "title": "EE (kJ h⁻¹ [g lean mass]⁻¹)"}},
  "color": {"field": "cond", "type": "nominal", "scale": {"domain": ["A","B","C","D"], "range": ["#ffffff","#8c8c8c","#d0d0d0","#151515"]}, "legend": null}
 }},
{"data": {"name": "bars"}, "transform": [{"filter": "datum.panel === 'd' && datum.cond === 'C'"}],
 "mark": {"type": "bar", "stroke": "#505050", "strokeWidth": 1, "fill": {"gradient": "linear", "x1": 0, "y1": 0, "x2": 0.13, "y2": 1, "stops": [
{"offset":0,"color":"#ffffff"},{"offset":0.025,"color":"#ffffff"},{"offset":0.025,"color":"#8f8f8f"},{"offset":0.04545,"color":"#8f8f8f"},
{"offset":0.04545,"color":"#ffffff"},{"offset":0.07045,"color":"#ffffff"},{"offset":0.07045,"color":"#8f8f8f"},{"offset":0.09091,"color":"#8f8f8f"},
{"offset":0.09091,"color":"#ffffff"},{"offset":0.11591,"color":"#ffffff"},{"offset":0.11591,"color":"#8f8f8f"},{"offset":0.13636,"color":"#8f8f8f"},
{"offset":0.13636,"color":"#ffffff"},{"offset":0.16136,"color":"#ffffff"},{"offset":0.16136,"color":"#8f8f8f"},{"offset":0.18182,"color":"#8f8f8f"},
{"offset":0.18182,"color":"#ffffff"},{"offset":0.20682,"color":"#ffffff"},{"offset":0.20682,"color":"#8f8f8f"},{"offset":0.22727,"color":"#8f8f8f"},
{"offset":0.22727,"color":"#ffffff"},{"offset":0.25227,"color":"#ffffff"},{"offset":0.25227,"color":"#8f8f8f"},{"offset":0.27273,"color":"#8f8f8f"},
{"offset":0.27273,"color":"#ffffff"},{"offset":0.29773,"color":"#ffffff"},{"offset":0.29773,"color":"#8f8f8f"},{"offset":0.31818,"color":"#8f8f8f"},
{"offset":0.31818,"color":"#ffffff"},{"offset":0.34318,"color":"#ffffff"},{"offset":0.34318,"color":"#8f8f8f"},{"offset":0.36364,"color":"#8f8f8f"},
{"offset":0.36364,"color":"#ffffff"},{"offset":0.38864,"color":"#ffffff"},{"offset":0.38864,"color":"#8f8f8f"},{"offset":0.40909,"color":"#8f8f8f"},
{"offset":0.40909,"color":"#ffffff"},{"offset":0.43409,"color":"#ffffff"},{"offset":0.43409,"color":"#8f8f8f"},{"offset":0.45455,"color":"#8f8f8f"},
{"offset":0.45455,"color":"#ffffff"},{"offset":0.47955,"color":"#ffffff"},{"offset":0.47955,"color":"#8f8f8f"},{"offset":0.5,"color":"#8f8f8f"},
{"offset":0.5,"color":"#ffffff"},{"offset":0.525,"color":"#ffffff"},{"offset":0.525,"color":"#8f8f8f"},{"offset":0.54545,"color":"#8f8f8f"},
{"offset":0.54545,"color":"#ffffff"},{"offset":0.57045,"color":"#ffffff"},{"offset":0.57045,"color":"#8f8f8f"},{"offset":0.59091,"color":"#8f8f8f"},
{"offset":0.59091,"color":"#ffffff"},{"offset":0.61591,"color":"#ffffff"},{"offset":0.61591,"color":"#8f8f8f"},{"offset":0.63636,"color":"#8f8f8f"},
{"offset":0.63636,"color":"#ffffff"},{"offset":0.66136,"color":"#ffffff"},{"offset":0.66136,"color":"#8f8f8f"},{"offset":0.68182,"color":"#8f8f8f"},
{"offset":0.68182,"color":"#ffffff"},{"offset":0.70682,"color":"#ffffff"},{"offset":0.70682,"color":"#8f8f8f"},{"offset":0.72727,"color":"#8f8f8f"},
{"offset":0.72727,"color":"#ffffff"},{"offset":0.75227,"color":"#ffffff"},{"offset":0.75227,"color":"#8f8f8f"},{"offset":0.77273,"color":"#8f8f8f"},
{"offset":0.77273,"color":"#ffffff"},{"offset":0.79773,"color":"#ffffff"},{"offset":0.79773,"color":"#8f8f8f"},{"offset":0.81818,"color":"#8f8f8f"},
{"offset":0.81818,"color":"#ffffff"},{"offset":0.84318,"color":"#ffffff"},{"offset":0.84318,"color":"#8f8f8f"},{"offset":0.86364,"color":"#8f8f8f"},
{"offset":0.86364,"color":"#ffffff"},{"offset":0.88864,"color":"#ffffff"},{"offset":0.88864,"color":"#8f8f8f"},{"offset":0.90909,"color":"#8f8f8f"},
{"offset":0.90909,"color":"#ffffff"},{"offset":0.93409,"color":"#ffffff"},{"offset":0.93409,"color":"#8f8f8f"},{"offset":0.95455,"color":"#8f8f8f"},
{"offset":0.95455,"color":"#ffffff"},{"offset":0.97955,"color":"#ffffff"},{"offset":0.97955,"color":"#8f8f8f"},{"offset":1,"color":"#8f8f8f"}
]}},
 "encoding": {
  "x": {"field": "grp", "type": "nominal", "sort": ["Whole", "Light", "Dark"]},
  "xOffset": {"field": "cond", "type": "nominal", "scale": {"domain": ["A","B","C","D"], "paddingInner": 0, "paddingOuter": 0}},
  "y": {"field": "v", "type": "quantitative"}
 }},
{"data": {"name": "bars"}, "transform": [{"filter": "datum.panel === 'd'"}],
 "mark": {"type": "rule", "color": "#404040", "strokeWidth": 1},
 "encoding": {
  "x": {"field": "grp", "type": "nominal", "sort": ["Whole", "Light", "Dark"]},
  "xOffset": {"field": "cond", "type": "nominal", "scale": {"domain": ["A","B","C","D"], "paddingInner": 0, "paddingOuter": 0}},
  "y": {"field": "v", "type": "quantitative"}, "y2": {"field": "hi"}
 }},
{"data": {"name": "bars"}, "transform": [{"filter": "datum.panel === 'd'"}],
 "mark": {"type": "tick", "orient": "horizontal", "size": 5, "thickness": 1.2, "color": "#404040"},
 "encoding": {
  "x": {"field": "grp", "type": "nominal", "sort": ["Whole", "Light", "Dark"]},
  "xOffset": {"field": "cond", "type": "nominal", "scale": {"domain": ["A","B","C","D"], "paddingInner": 0, "paddingOuter": 0}},
  "y": {"field": "hi", "type": "quantitative"}
 }},
{"data": {"name": "sig"}, "transform": [{"filter": "datum.panel === 'd'"}],
 "mark": {"type": "line", "color": "#404040", "strokeWidth": 1},
 "encoding": {
  "x": {"field": "grp", "type": "nominal", "sort": ["Whole", "Light", "Dark"]},
  "xOffset": {"field": "p", "type": "ordinal", "scale": {"type": "point", "domain": [0,1,2,3,4,5,6,7,8,9,10,11,12,13,14,15,16], "padding": 0}},
  "y": {"field": "y", "type": "quantitative"}, "detail": {"field": "id"}
 }},
{"data": {"name": "links"}, "transform": [{"filter": "datum.panel === 'd'"}],
 "mark": {"type": "line", "color": "#404040", "strokeWidth": 1, "strokeDash": [3, 2]},
 "encoding": {
  "x": {"field": "grp", "type": "nominal", "sort": ["Whole", "Light", "Dark"]},
  "xOffset": {"field": "p", "type": "ordinal", "scale": {"type": "point", "domain": [0,1,2,3,4,5,6,7,8,9,10,11,12,13,14,15,16], "padding": 0}},
  "y": {"field": "y", "type": "quantitative"}, "detail": {"field": "id"}
 }},
{"data": {"name": "stars"}, "transform": [{"filter": "datum.panel === 'd'"}],
 "mark": {"type": "text", "font": "Liberation Serif", "fontSize": 14, "baseline": "middle", "align": "center", "color": "#333333"},
 "encoding": {
  "x": {"field": "grp", "type": "nominal", "sort": ["Whole", "Light", "Dark"]},
  "xOffset": {"field": "p", "type": "ordinal", "scale": {"type": "point", "domain": [0,1,2,3,4,5,6,7,8,9,10,11,12,13,14,15,16], "padding": 0}},
  "y": {"field": "y", "type": "quantitative"}, "text": {"field": "t"}
 }}
]
},
{
"width": 226, "height": 130,
"title": {"text": "e", "offset": 0},
"resolve": {"scale": {"xOffset": "independent"}},
"layer": [
{"data": {"name": "bars"}, "transform": [{"filter": "datum.panel === 'e' && datum.grp === 'Dark' && datum.cond === 'A'"}],
 "mark": {"type": "bar", "color": "#eef0ef", "width": {"band": 1.163}},
 "encoding": {
  "x": {"field": "grp", "type": "nominal", "sort": ["Whole", "Light", "Dark"]},
  "y": {"datum": 18}, "y2": {"datum": 0}
 }},
{"data": {"name": "bars"}, "transform": [{"filter": "datum.panel === 'e'"}],
 "mark": {"type": "bar", "stroke": "#505050", "strokeWidth": 1},
 "encoding": {
  "x": {"field": "grp", "type": "nominal", "sort": ["Whole", "Light", "Dark"], "scale": {"paddingInner": 0.14, "paddingOuter": 0.282, "align": 0.75}, "axis": {"title": null}},
  "xOffset": {"field": "cond", "type": "nominal", "scale": {"domain": ["A","B","C","D"], "paddingInner": 0, "paddingOuter": 0}},
  "y": {"field": "v", "type": "quantitative", "scale": {"domain": [0, 18], "nice": false}, "axis": {"values": [0, 2, 4, 6, 8, 10, 12, 14, 16, 18], "tickCount": 30, "labelOverlap": false, "titlePadding": 2, "labelExpr": "format(datum.value, 'd')", "title": "Activity counts (1,000/day)"}},
  "color": {"field": "cond", "type": "nominal", "scale": {"domain": ["A","B","C","D"], "range": ["#ffffff","#8c8c8c","#d0d0d0","#151515"]}, "legend": null}
 }},
{"data": {"name": "bars"}, "transform": [{"filter": "datum.panel === 'e' && datum.cond === 'C'"}],
 "mark": {"type": "bar", "stroke": "#505050", "strokeWidth": 1, "fill": {"gradient": "linear", "x1": 0, "y1": 0, "x2": 0.13, "y2": 1, "stops": [
{"offset":0,"color":"#ffffff"},{"offset":0.025,"color":"#ffffff"},{"offset":0.025,"color":"#8f8f8f"},{"offset":0.04545,"color":"#8f8f8f"},
{"offset":0.04545,"color":"#ffffff"},{"offset":0.07045,"color":"#ffffff"},{"offset":0.07045,"color":"#8f8f8f"},{"offset":0.09091,"color":"#8f8f8f"},
{"offset":0.09091,"color":"#ffffff"},{"offset":0.11591,"color":"#ffffff"},{"offset":0.11591,"color":"#8f8f8f"},{"offset":0.13636,"color":"#8f8f8f"},
{"offset":0.13636,"color":"#ffffff"},{"offset":0.16136,"color":"#ffffff"},{"offset":0.16136,"color":"#8f8f8f"},{"offset":0.18182,"color":"#8f8f8f"},
{"offset":0.18182,"color":"#ffffff"},{"offset":0.20682,"color":"#ffffff"},{"offset":0.20682,"color":"#8f8f8f"},{"offset":0.22727,"color":"#8f8f8f"},
{"offset":0.22727,"color":"#ffffff"},{"offset":0.25227,"color":"#ffffff"},{"offset":0.25227,"color":"#8f8f8f"},{"offset":0.27273,"color":"#8f8f8f"},
{"offset":0.27273,"color":"#ffffff"},{"offset":0.29773,"color":"#ffffff"},{"offset":0.29773,"color":"#8f8f8f"},{"offset":0.31818,"color":"#8f8f8f"},
{"offset":0.31818,"color":"#ffffff"},{"offset":0.34318,"color":"#ffffff"},{"offset":0.34318,"color":"#8f8f8f"},{"offset":0.36364,"color":"#8f8f8f"},
{"offset":0.36364,"color":"#ffffff"},{"offset":0.38864,"color":"#ffffff"},{"offset":0.38864,"color":"#8f8f8f"},{"offset":0.40909,"color":"#8f8f8f"},
{"offset":0.40909,"color":"#ffffff"},{"offset":0.43409,"color":"#ffffff"},{"offset":0.43409,"color":"#8f8f8f"},{"offset":0.45455,"color":"#8f8f8f"},
{"offset":0.45455,"color":"#ffffff"},{"offset":0.47955,"color":"#ffffff"},{"offset":0.47955,"color":"#8f8f8f"},{"offset":0.5,"color":"#8f8f8f"},
{"offset":0.5,"color":"#ffffff"},{"offset":0.525,"color":"#ffffff"},{"offset":0.525,"color":"#8f8f8f"},{"offset":0.54545,"color":"#8f8f8f"},
{"offset":0.54545,"color":"#ffffff"},{"offset":0.57045,"color":"#ffffff"},{"offset":0.57045,"color":"#8f8f8f"},{"offset":0.59091,"color":"#8f8f8f"},
{"offset":0.59091,"color":"#ffffff"},{"offset":0.61591,"color":"#ffffff"},{"offset":0.61591,"color":"#8f8f8f"},{"offset":0.63636,"color":"#8f8f8f"},
{"offset":0.63636,"color":"#ffffff"},{"offset":0.66136,"color":"#ffffff"},{"offset":0.66136,"color":"#8f8f8f"},{"offset":0.68182,"color":"#8f8f8f"},
{"offset":0.68182,"color":"#ffffff"},{"offset":0.70682,"color":"#ffffff"},{"offset":0.70682,"color":"#8f8f8f"},{"offset":0.72727,"color":"#8f8f8f"},
{"offset":0.72727,"color":"#ffffff"},{"offset":0.75227,"color":"#ffffff"},{"offset":0.75227,"color":"#8f8f8f"},{"offset":0.77273,"color":"#8f8f8f"},
{"offset":0.77273,"color":"#ffffff"},{"offset":0.79773,"color":"#ffffff"},{"offset":0.79773,"color":"#8f8f8f"},{"offset":0.81818,"color":"#8f8f8f"},
{"offset":0.81818,"color":"#ffffff"},{"offset":0.84318,"color":"#ffffff"},{"offset":0.84318,"color":"#8f8f8f"},{"offset":0.86364,"color":"#8f8f8f"},
{"offset":0.86364,"color":"#ffffff"},{"offset":0.88864,"color":"#ffffff"},{"offset":0.88864,"color":"#8f8f8f"},{"offset":0.90909,"color":"#8f8f8f"},
{"offset":0.90909,"color":"#ffffff"},{"offset":0.93409,"color":"#ffffff"},{"offset":0.93409,"color":"#8f8f8f"},{"offset":0.95455,"color":"#8f8f8f"},
{"offset":0.95455,"color":"#ffffff"},{"offset":0.97955,"color":"#ffffff"},{"offset":0.97955,"color":"#8f8f8f"},{"offset":1,"color":"#8f8f8f"}
]}},
 "encoding": {
  "x": {"field": "grp", "type": "nominal", "sort": ["Whole", "Light", "Dark"]},
  "xOffset": {"field": "cond", "type": "nominal", "scale": {"domain": ["A","B","C","D"], "paddingInner": 0, "paddingOuter": 0}},
  "y": {"field": "v", "type": "quantitative"}
 }},
{"data": {"name": "bars"}, "transform": [{"filter": "datum.panel === 'e'"}],
 "mark": {"type": "rule", "color": "#404040", "strokeWidth": 1},
 "encoding": {
  "x": {"field": "grp", "type": "nominal", "sort": ["Whole", "Light", "Dark"]},
  "xOffset": {"field": "cond", "type": "nominal", "scale": {"domain": ["A","B","C","D"], "paddingInner": 0, "paddingOuter": 0}},
  "y": {"field": "v", "type": "quantitative"}, "y2": {"field": "hi"}
 }},
{"data": {"name": "bars"}, "transform": [{"filter": "datum.panel === 'e'"}],
 "mark": {"type": "tick", "orient": "horizontal", "size": 5, "thickness": 1.2, "color": "#404040"},
 "encoding": {
  "x": {"field": "grp", "type": "nominal", "sort": ["Whole", "Light", "Dark"]},
  "xOffset": {"field": "cond", "type": "nominal", "scale": {"domain": ["A","B","C","D"], "paddingInner": 0, "paddingOuter": 0}},
  "y": {"field": "hi", "type": "quantitative"}
 }},
{"data": {"name": "sig"}, "transform": [{"filter": "datum.panel === 'e'"}],
 "mark": {"type": "line", "color": "#404040", "strokeWidth": 1},
 "encoding": {
  "x": {"field": "grp", "type": "nominal", "sort": ["Whole", "Light", "Dark"]},
  "xOffset": {"field": "p", "type": "ordinal", "scale": {"type": "point", "domain": [0,1,2,3,4,5,6,7,8,9,10,11,12,13,14,15,16], "padding": 0}},
  "y": {"field": "y", "type": "quantitative"}, "detail": {"field": "id"}
 }},
{"data": {"name": "stars"}, "transform": [{"filter": "datum.panel === 'e'"}],
 "mark": {"type": "text", "font": "Liberation Serif", "fontSize": 14, "baseline": "middle", "align": "center", "color": "#333333"},
 "encoding": {
  "x": {"field": "grp", "type": "nominal", "sort": ["Whole", "Light", "Dark"]},
  "xOffset": {"field": "p", "type": "ordinal", "scale": {"type": "point", "domain": [0,1,2,3,4,5,6,7,8,9,10,11,12,13,14,15,16], "padding": 0}},
  "y": {"field": "y", "type": "quantitative"}, "text": {"field": "t"}
 }}
]
}
]}
]}
]
}
